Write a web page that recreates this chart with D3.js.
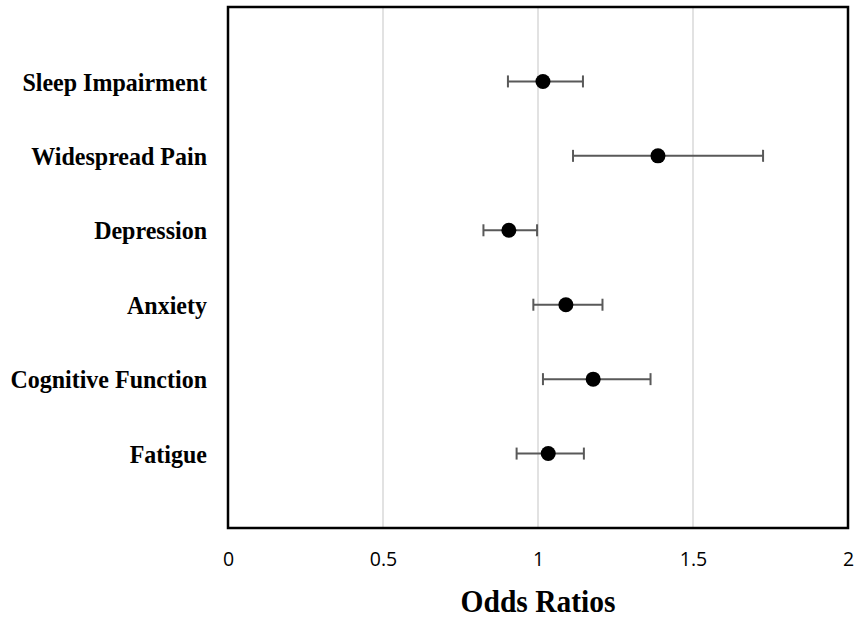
<!DOCTYPE html>
<html>
<head>
<meta charset="utf-8">
<title>Odds Ratios</title>
<script src="https://d3js.org/d3.v7.min.js"></script>
<style>
body { margin: 0; background: #fff; }
.cat { font-family: "Liberation Serif", "Times New Roman", serif; font-weight: bold; font-size: 24px; fill: #000; }
.tick text { font-family: "Open Sans", "Liberation Sans", sans-serif; font-size: 19.5px; fill: #000; }
.title { font-family: "Liberation Serif", "Times New Roman", serif; font-weight: bold; font-size: 29.5px; fill: #000; }
</style>
</head>
<body>
<svg width="858" height="618"></svg>
<script>
// values, top to bottom
var categories = ["Sleep Impairment", "Widespread Pain", "Depression", "Anxiety", "Cognitive Function", "Fatigue"];
var oddsRatio = [1.016, 1.387, 0.906, 1.090, 1.178, 1.033];
var lowerCI   = [0.903, 1.113, 0.824, 0.985, 1.016, 0.931];
var upperCI   = [1.145, 1.726, 0.997, 1.208, 1.363, 1.148];
var xTicks = [0, 0.5, 1, 1.5, 2];

var svg = d3.select("svg");

var plotLeft = 228, plotRight = 848, plotTop = 7, plotBottom = 528;

var x = d3.scaleLinear().domain([0, 2]).range([plotLeft, plotRight]);
// Excel-style: categories sit at 1..6 on a 0..7 axis
var y = d3.scaleLinear().domain([0, categories.length + 1]).range([plotTop, plotBottom]);

var rows = categories.map(function(c, i) {
  return { name: c, or: oddsRatio[i], lo: lowerCI[i], hi: upperCI[i], pos: i + 1 };
});

// gridlines
svg.append("g")
  .selectAll("line")
  .data(xTicks.slice(1, -1))
  .enter().append("line")
    .attr("x1", function(d) { return x(d); })
    .attr("x2", function(d) { return x(d); })
    .attr("y1", plotTop)
    .attr("y2", plotBottom)
    .attr("stroke", "#d9d9d9")
    .attr("stroke-width", 1.5);

// x axis labels only
var ax = svg.append("g")
  .attr("transform", "translate(0," + plotBottom + ")")
  .call(d3.axisBottom(x).tickValues(xTicks).tickSize(0).tickPadding(24)
    .tickFormat(function(d) { return d3.format("")(d); }));
ax.select(".domain").remove();

// error bars
var eb = svg.append("g").selectAll("g")
  .data(rows)
  .enter().append("g")
    .attr("stroke", "#595959")
    .attr("stroke-width", 2);

eb.append("line")
  .attr("x1", function(d) { return x(d.lo); })
  .attr("x2", function(d) { return x(d.hi); })
  .attr("y1", function(d) { return y(d.pos); })
  .attr("y2", function(d) { return y(d.pos); });

eb.append("line")
  .attr("x1", function(d) { return x(d.lo); })
  .attr("x2", function(d) { return x(d.lo); })
  .attr("y1", function(d) { return y(d.pos) - 6; })
  .attr("y2", function(d) { return y(d.pos) + 6; });

eb.append("line")
  .attr("x1", function(d) { return x(d.hi); })
  .attr("x2", function(d) { return x(d.hi); })
  .attr("y1", function(d) { return y(d.pos) - 6; })
  .attr("y2", function(d) { return y(d.pos) + 6; });

// points
svg.append("g").selectAll("circle")
  .data(rows)
  .enter().append("circle")
    .attr("cx", function(d) { return x(d.or); })
    .attr("cy", function(d) { return y(d.pos); })
    .attr("r", 7.5)
    .attr("fill", "#000");

// category labels (slightly tall, as in the source image)
svg.append("g").selectAll("text")
  .data(rows)
  .enter().append("text")
    .attr("class", "cat")
    .attr("transform", function(d) { return "translate(" + (plotLeft - 21) + "," + y(d.pos) + ") scale(1,1.08)"; })
    .attr("dy", "0.35em")
    .attr("text-anchor", "end")
    .text(function(d) { return d.name; });

// plot border
svg.append("rect")
  .attr("x", plotLeft)
  .attr("y", plotTop)
  .attr("width", plotRight - plotLeft)
  .attr("height", plotBottom - plotTop)
  .attr("fill", "none")
  .attr("stroke", "#000")
  .attr("stroke-width", 2.5);

svg.append("text")
  .attr("class", "title")
  .attr("transform", "translate(" + x(1) + ",612) scale(1,1.08)")
  .attr("text-anchor", "middle")
  .text("Odds Ratios");
</script>
</body>
</html>
